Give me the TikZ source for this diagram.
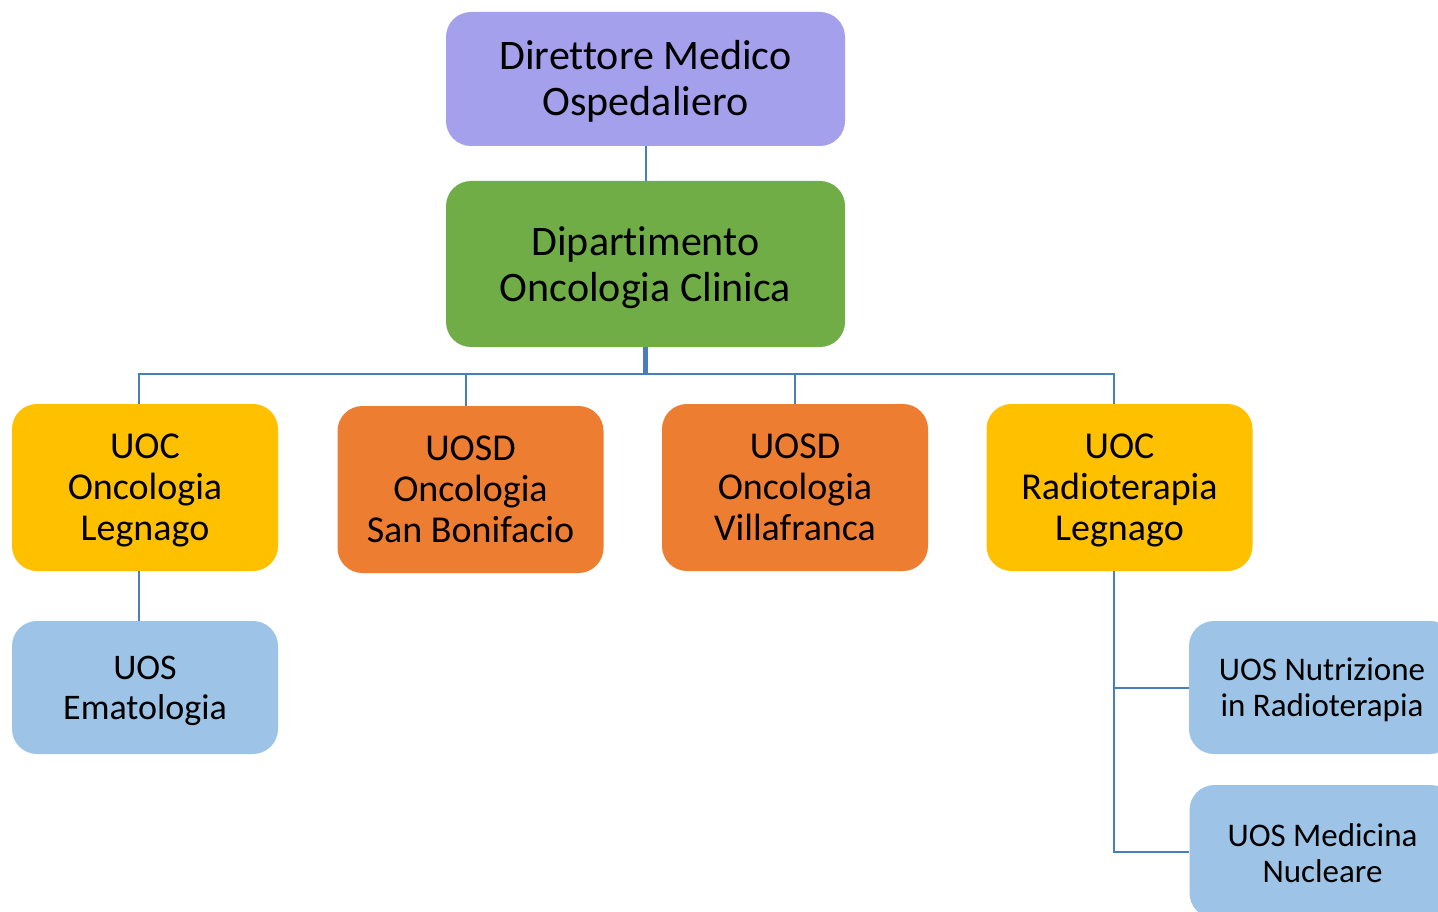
\documentclass[tikz,border=0pt]{standalone}
\usepackage{fontspec}
\setmainfont{Carlito}[Ligatures=NoCommon]
\usetikzlibrary{calc}
\definecolor{dirviolet}{HTML}{A5A0EC}
\definecolor{deptgreen}{HTML}{70AD47}
\definecolor{uocyellow}{HTML}{FFC000}
\definecolor{uosdorange}{HTML}{ED7D31}
\definecolor{uosblue}{HTML}{9DC3E6}
\definecolor{linkblue}{HTML}{4A7EBB}

\begin{document}
\begin{tikzpicture}[x=1pt, y=-1pt,
box/.style={rectangle, rounded corners=25pt, align=center, inner sep=0pt, text=black,
  execute at begin node={\rule[-9pt]{0pt}{#1}}},
topbox/.style={box=92pt, minimum width=399pt, font=\fontsize{42}{46}\selectfont},
unitbox/.style={box=124pt, minimum width=266pt, minimum height=167pt, font=\fontsize{38}{41}\selectfont},
subbox/.style={box=#1, fill=uosblue, minimum width=266pt, minimum height=133pt},
conn/.style={draw=linkblue, line width=2pt}]
 \useasboundingbox (0,0) rectangle (1438,912);
 \clip (0,0) rectangle (1438,912);

 \node[topbox, fill=dirviolet, minimum height=134pt] (dir) at (645.5,79) {Direttore Medico\\Ospedaliero};
 \node[topbox, fill=deptgreen, minimum height=166pt] (dept) at (645.5,264) {Dipartimento\\Oncologia Clinica};

 \node[unitbox, fill=uocyellow] (uocleg) at (145,487.5) {UOC\\Oncologia\\Legnago};
 \node[unitbox, fill=uosdorange] (uosdsb) at (470.5,489.5) {UOSD\\Oncologia\\San Bonifacio};
 \node[unitbox, fill=uosdorange] (uosdvil) at (795,487.5) {UOSD\\Oncologia\\Villafranca};
 \node[unitbox, fill=uocyellow] (uocrad) at (1119.5,487.5) {UOC\\Radioterapia\\Legnago};

 \node[subbox=81pt, font=\fontsize{36}{40}\selectfont] (uosema) at (145,687.5) {UOS\\Ematologia};
 \node[subbox=76pt, font=\fontsize{33}{36}\selectfont] (uosnut) at (1322,687.5) {UOS Nutrizione\\in Radioterapia};
 \node[subbox=79pt, font=\fontsize{33}{36}\selectfont] (uosmed) at (1322.5,851.5) {UOS Medicina\\Nucleare};

 \coordinate (bus) at (645.5,374);

 \draw[conn] (dir) -- (dept);
 \draw[conn, line width=5pt] (dept.south) -- (bus);
 \draw[conn] ($(uocleg.north)+(-6,0)$) |- (bus) -| ($(uocrad.north)+(-5.5,0)$);
 \draw[conn] ($(uosdsb.north)+(-4.5,0)$) -- ++(0,-32);
 \draw[conn] (uosdvil.north) -- ++(0,-30);
 \draw[conn] ($(uocleg.south)+(-6,0)$) -- ($(uosema.north)+(-6,0)$);
 \draw[conn] ($(uocrad.south)+(-5.5,0)$) |- (uosnut.west);
 \draw[conn] ($(uocrad.south)+(-5.5,0)$) |- (uosmed.west);
\end{tikzpicture}
\end{document}
